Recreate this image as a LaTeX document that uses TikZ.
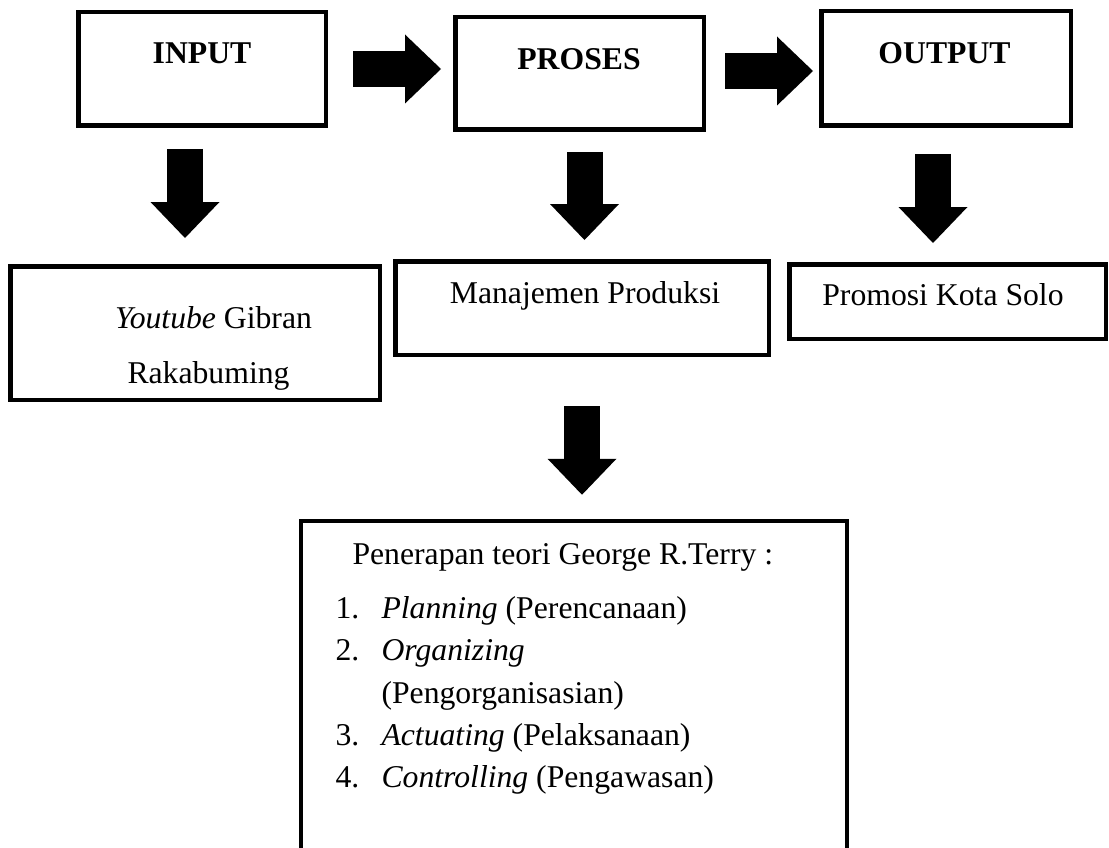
\documentclass[tikz,border=0pt]{standalone}
\usepackage{fontspec}
\setmainfont{Liberation Serif}
\usetikzlibrary{arrows.meta}

\tikzset{
    box/.style={draw, rectangle, line width=4.5pt, inner sep=0pt},
    fatarrow/.style={line width=36pt, -{Triangle[length=36pt, width=69pt, line width=0pt]}},
}

\begin{document}
\begin{tikzpicture}[x=1pt, y=-1pt, font=\fontsize{31.7}{39.75}\selectfont]
    \useasboundingbox (0,0) rectangle (1109,848);
    \clip (0,0) rectangle (1109,848);
    
    % Top boxes
    \node[box, minimum width=247.5pt, minimum height=113.5pt] (input) at (202,69) {};
    \node[box, minimum width=248.5pt, minimum height=112.5pt] (proses) at (579.5,73.5) {};
    \node[box, minimum width=249.5pt, minimum height=114.5pt] (output) at (946,68.5) {};
    \node[anchor=base] (inputtxt) at (202,64) {\textbf{INPUT}};
    \node[anchor=base] (prosestxt) at (579,70) {\textbf{PROSES}};
    \node[anchor=base] (outputtxt) at (944.5,64) {\textbf{OUTPUT}};
    
    % Middle boxes
    \node[box, minimum width=369.5pt, minimum height=133.5pt] (youtube) at (195,333) {};
    \node[box, minimum width=373.5pt, minimum height=93.5pt] (manajemen) at (582,308) {};
    \node[box, minimum width=316.5pt, minimum height=74.5pt] (promosi) at (947.5,301.5) {};
    \node[anchor=base] (youtubetxt) at (213.5,328) {\textit{Youtube} Gibran};
    \node[anchor=base] (rakatxt) at (208.5,383) {Rakabuming};
    \node[anchor=base] (manajementxt) at (585,303) {Manajemen Produksi};
    \node[anchor=base] (promositxt) at (943,305) {Promosi Kota Solo};
    
    % Bottom box (runs off the page)
    \node[box, minimum width=546pt, minimum height=379pt] (terry) at (574,710.5) {};
    \node[anchor=base west] (terrytxt) at (349,564) {Penerapan teori George R.Terry :};
    \node[anchor=base west] (num1) at (332,618) {1.};
    \node[anchor=base west] (item1) at (378,618) {\textit{Planning} (Perencanaan)};
    \node[anchor=base west] (num2) at (332,660) {2.};
    \node[anchor=base west] (item2) at (378,660) {\textit{Organizing}};
    \node[anchor=base west] (item2b) at (378,703) {(Pengorganisasian)};
    \node[anchor=base west] (num3) at (332,745) {3.};
    \node[anchor=base west] (item3) at (378,745) {\textit{Actuating} (Pelaksanaan)};
    \node[anchor=base west] (num4) at (332,787) {4.};
    \node[anchor=base west] (item4) at (378,787) {\textit{Controlling} (Pengawasan)};
    
    % Arrows
    \draw[fatarrow, shorten <=25pt, shorten >=12pt] (input.east) -- (input.east -| proses.west);
    \draw[fatarrow, shorten <=19pt, shorten >=6pt] ([yshift=2.5pt]proses.east) -- ([yshift=2.5pt]proses.east -| output.west);
    \draw[fatarrow, shorten <=21pt, shorten >=26pt] ([xshift=-17pt]input.south) -- ([xshift=-17pt]input.south |- youtube.north);
    \draw[fatarrow, shorten <=20pt, shorten >=19pt] ([xshift=5pt]proses.south) -- ([xshift=5pt]proses.south |- manajemen.north);
    \draw[fatarrow, shorten <=26pt, shorten >=19pt] ([xshift=-13pt]output.south) -- ([xshift=-13pt]output.south |- promosi.north);
    \draw[fatarrow, shorten <=49pt, shorten >=24pt] (manajemen.south) -- (manajemen.south |- terry.north);
    
\end{tikzpicture}
\end{document}
